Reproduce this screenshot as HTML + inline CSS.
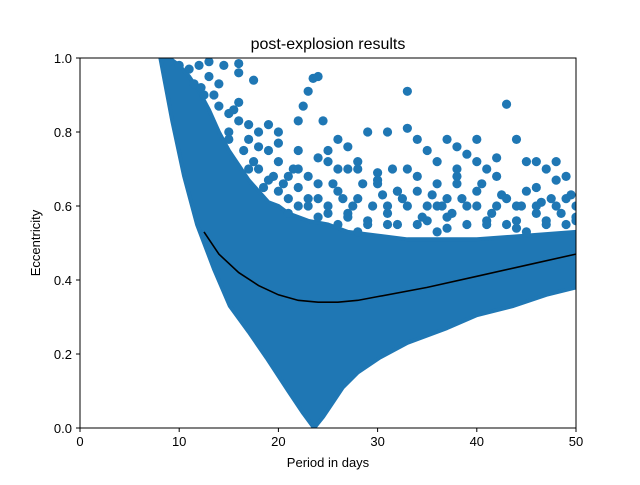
<!DOCTYPE html>
<html><head><meta charset="utf-8"><style>
body{margin:0;background:#fff;}
svg text{font-family:"Liberation Sans",sans-serif;}
</style></head><body>
<svg id="chart" width="640" height="480" xmlns="http://www.w3.org/2000/svg">
<rect width="640" height="480" fill="#fff"/>
<defs><clipPath id="clip"><rect x="80" y="58" width="496" height="370"/></clipPath></defs>
<g id="plot" clip-path="url(#clip)"></g>
<rect x="80" y="58" width="496" height="370" fill="none" stroke="#000" stroke-width="1"/>
<g id="axes"></g>
<text x="328" y="49" text-anchor="middle" font-size="16">post-explosion results</text>
<text x="328" y="467" text-anchor="middle" font-size="13">Period in days</text>
<text transform="translate(40,243) rotate(-90)" text-anchor="middle" font-size="13">Eccentricity</text>
</svg>
<script>
const xTicks=[0,10,20,30,40,50];
const yTicks=[0.0,0.2,0.4,0.6,0.8,1.0];
const bandTopX=[8.1,9,10,11,12,13,14,15,16,17,18,19,20,21,23,25,27,30,33,36,40,45,50];
const bandTopY=[1.0,1.0,0.98,0.95,0.91,0.86,0.8,0.75,0.71,0.67,0.64,0.61,0.6,0.58,0.56,0.55,0.53,0.52,0.51,0.51,0.51,0.52,0.53];
const bandBotX=[50,47,43.7,40,37,33,30.2,28,26.5,25.5,24.5,23.6,22.5,21,18.8,17,15.1,13.5,11.8,10.5,9.3,8.1];
const bandBotY=[0.38,0.36,0.33,0.305,0.27,0.23,0.19,0.15,0.11,0.07,0.03,0.0,0.04,0.1,0.19,0.26,0.33,0.43,0.55,0.68,0.83,1.0];
const scatterX=[9,10,11,12,13,14.5,16,13,14,16,17.5,12.5,14,15,16,17,19,20,22,22.5,23,23.5,24,24.5,26,25,27,28,29,31,33,33,34,35,36,37,38,39,38,40,40.5,41,42,43,44,45,46,47,48,49,45,42,44,46,48,50,36,34,32,30,28,26,24,22,20,19,21,18,23,25,27,29,31,33,35,37,39,41,43,45,47,49,33,30,27,25,17,15,18.5,20,22,35,37,39,46,48,44,40,42,38,36,32,28,26,24,21,13.5,15.5,11.5,12.2,31.5,36.5,41.5,47.5,49.5,
15,16.5,17.5,18,19.5,20.5,21.5,22,23,24,25.5,26.5,27.5,28.5,29.5,30.5,31,32.5,34.5,35.5,37.5,38.5,40,42.5,44.5,46.5,48.5,50,16,18,20,22,24,26,28,30,32,34,36,38,40,43,46,49,17,19,21,23,25,27,29,31,34,37,41,44,47,50];
const scatterY=[0.99,0.98,0.97,0.98,0.99,0.98,0.985,0.95,0.93,0.96,0.94,0.9,0.87,0.85,0.83,0.82,0.82,0.8,0.83,0.87,0.91,0.945,0.95,0.83,0.78,0.75,0.7,0.72,0.8,0.8,0.91,0.81,0.78,0.75,0.72,0.78,0.76,0.74,0.7,0.72,0.66,0.7,0.68,0.875,0.6,0.64,0.72,0.7,0.67,0.68,0.72,0.6,0.56,0.58,0.6,0.6,0.66,0.64,0.64,0.66,0.62,0.64,0.66,0.7,0.72,0.75,0.68,0.7,0.62,0.6,0.58,0.56,0.6,0.6,0.56,0.62,0.55,0.56,0.55,0.53,0.55,0.55,0.7,0.69,0.76,0.72,0.78,0.8,0.65,0.64,0.6,0.6,0.57,0.6,0.65,0.72,0.78,0.78,0.73,0.68,0.53,0.55,0.53,0.55,0.57,0.58,0.9,0.86,0.93,0.92,0.7,0.6,0.58,0.62,0.63,
0.78,0.75,0.72,0.76,0.68,0.66,0.7,0.65,0.68,0.62,0.66,0.62,0.6,0.66,0.6,0.63,0.58,0.62,0.57,0.63,0.58,0.62,0.6,0.63,0.6,0.61,0.58,0.56,0.88,0.8,0.77,0.75,0.73,0.7,0.7,0.67,0.64,0.68,0.6,0.66,0.64,0.62,0.6,0.62,0.7,0.67,0.62,0.6,0.58,0.57,0.55,0.55,0.55,0.54,0.55,0.54,0.56,0.57];
const fitX=[12.5,14,16,18,20,22,24,26,28,30,35,40,45,50];
const fitY=[0.53,0.47,0.42,0.385,0.36,0.345,0.34,0.34,0.345,0.355,0.38,0.41,0.44,0.47];
const NS="http://www.w3.org/2000/svg";
const sx=v=>80+v*9.92, sy=v=>428-v*370;
const plot=document.getElementById('plot'), axes=document.getElementById('axes');
const C='#1f77b4';
let pts=bandTopX.map((x,i)=>sx(x)+','+sy(bandTopY[i])).concat(bandBotX.map((x,i)=>sx(x)+','+sy(bandBotY[i])));
const poly=document.createElementNS(NS,'polygon');
poly.setAttribute('points',pts.join(' '));poly.setAttribute('fill',C);
poly.setAttribute('stroke',C);poly.setAttribute('stroke-width','4');poly.setAttribute('stroke-linejoin','round');


plot.appendChild(poly);
scatterX.forEach((x,i)=>{
 const c=document.createElementNS(NS,'circle');
 c.setAttribute('cx',sx(x));c.setAttribute('cy',sy(scatterY[i]));c.setAttribute('r',4.6);c.setAttribute('fill',C);
 
 
 plot.appendChild(c);
});
const fit=document.createElementNS(NS,'polyline');
fit.setAttribute('points',fitX.map((x,i)=>sx(x)+','+sy(fitY[i])).join(' '));
fit.setAttribute('fill','none');fit.setAttribute('stroke','#000');fit.setAttribute('stroke-width','1.6');


plot.appendChild(fit);
xTicks.forEach(t=>{
 const l=document.createElementNS(NS,'line');
 l.setAttribute('x1',sx(t));l.setAttribute('x2',sx(t));l.setAttribute('y1',428);l.setAttribute('y2',432);l.setAttribute('stroke','#000');
 
 
 axes.appendChild(l);
 const tx=document.createElementNS(NS,'text');
 tx.setAttribute('x',sx(t));tx.setAttribute('y',446);tx.setAttribute('text-anchor','middle');tx.setAttribute('font-size','13');
 tx.textContent=t;
 
 
 axes.appendChild(tx);
});
yTicks.forEach(t=>{
 const l=document.createElementNS(NS,'line');
 l.setAttribute('x1',76);l.setAttribute('x2',80);l.setAttribute('y1',sy(t));l.setAttribute('y2',sy(t));l.setAttribute('stroke','#000');
 
 
 axes.appendChild(l);
 const tx=document.createElementNS(NS,'text');
 tx.setAttribute('x',72);tx.setAttribute('y',sy(t)+5);tx.setAttribute('text-anchor','end');tx.setAttribute('font-size','13');
 tx.textContent=t.toFixed(1);
 
 
 axes.appendChild(tx);
});
</script>
</body></html>
